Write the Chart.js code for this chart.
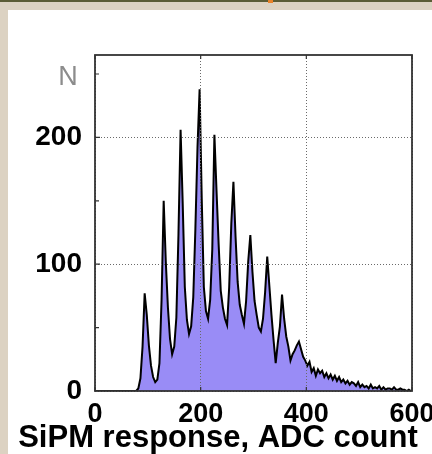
<!DOCTYPE html>
<html><head><meta charset="utf-8">
<script src="https://cdn.jsdelivr.net/npm/chart.js@4/dist/chart.umd.min.js"></script>
<style>html,body{margin:0;padding:0;background:#dcd2c2;overflow:hidden}canvas{display:block}</style>
</head><body>
<canvas id="c" width="432" height="454"></canvas>
<script>
// Histogram: bins of 4 ADC counts starting at 0
const binStart = 0;
const binWidth = 4;
const counts = [
  0,0,0,0,0,0,0,0,0,0, 0,0,0,0,0,0,0,0,0,0,
  2,10,35,77,60,36,20,11,7,9,
  22,72,150,102,66,41,29,35,58,124,
  206,148,82,56,45,51,74,128,192,238,
  152,82,63,57,72,112,202,158,116,79,
  66,57,52,82,132,165,122,86,68,60,
  53,71,102,123,94,71,60,50,47,57,
  78,106,83,60,40,22,38,51,76,57,
  43,35,24,29,32,36,39,33,27,24,
  20,23,15,18,12,17,14,16,11,14,
  10,13,9,12,8,11,7,9,6,8,
  5,7,6,4,7,3,5,3,4,2,
  5,2,3,2,4,1,3,1,2,2,
  1,3,1,1,2,1,1,0,1,0
];
const xTicks = [0, 200, 400, 600];
const yTicks = [0, 100, 200];
const yInnerTicks = [50, 100, 150, 200, 250];
const xMin = 0, xMax = 600, yMin = 0, yMax = 265;
const xLabel = 'SiPM response, ADC count';
const yLabel = 'N';

const FONT = '"Liberation Sans", Arial, Helvetica, sans-serif';
const binCenters = counts.map((_, i) => binStart + binWidth * i + binWidth / 2);
const points = counts.map((c, i) => ({ x: binCenters[i], y: c }));

const bgPlugin = {
  id: 'bg',
  beforeDraw(chart) {
    const ctx = chart.ctx, W = chart.width, H = chart.height;
    ctx.save();
    ctx.fillStyle = '#dcd2c2'; ctx.fillRect(0, 0, W, H);
    ctx.fillStyle = '#5b5c36'; ctx.fillRect(0, 0, W, 2);
    ctx.fillStyle = '#e8822a'; ctx.fillRect(268, 0, 5, 3);
    ctx.fillStyle = '#ffffff'; ctx.fillRect(8, 10, W - 8, H - 10);
    ctx.restore();
  }
};
const framePlugin = {
  id: 'frame',
  afterDraw(chart) {
    const { ctx, chartArea: a, scales: { x, y } } = chart;
    ctx.save();
    ctx.strokeStyle = '#333';
    ctx.lineWidth = 1.8;
    ctx.strokeRect(a.left, a.top, a.right - a.left, a.bottom - a.top);
    ctx.lineWidth = 1.2;
    ctx.beginPath();
    for (const v of yInnerTicks) {
      const py = y.getPixelForValue(v);
      ctx.moveTo(a.left, py); ctx.lineTo(a.left + (v % 100 === 0 ? 5 : 4), py);
    }
    for (const v of xTicks) {
      const px = x.getPixelForValue(v);
      ctx.moveTo(px, a.bottom); ctx.lineTo(px, a.bottom - 4);
      ctx.moveTo(px, a.top); ctx.lineTo(px, a.top + 4);
    }
    ctx.stroke();
    // y-axis title
    ctx.fillStyle = '#8c8c8c';
    ctx.font = '27px ' + FONT;
    ctx.textAlign = 'center';
    ctx.textBaseline = 'alphabetic';
    ctx.fillText(yLabel, a.left - 27, a.top + 30);
    // x-axis title
    ctx.fillStyle = '#000';
    ctx.font = 'bold 31px ' + FONT;
    ctx.fillText(xLabel, 218, chart.height - 7);
    ctx.restore();
  }
};

new Chart(document.getElementById('c'), {
  type: 'line',
  data: {
    datasets: [{
      data: points,
      fill: 'origin',
      backgroundColor: '#998cf6',
      borderColor: '#000',
      borderWidth: 2,
      pointRadius: 0,
      tension: 0
    }]
  },
  options: {
    responsive: false,
    animation: false,
    devicePixelRatio: 1,
    layout: { padding: { top: 55, right: 20, left: 0, bottom: 0 } },
    plugins: {
      legend: { display: false },
      tooltip: { enabled: false },
      title: { display: false }
    },
    scales: {
      x: {
        type: 'linear', min: xMin, max: xMax,
        afterFit(s) { s.height = 63; s.paddingLeft = 0; s.paddingRight = 0; },
        afterBuildTicks(s) { s.ticks = xTicks.map(v => ({ value: v })); },
        ticks: { color: '#000', font: { family: FONT, size: 27, weight: 'bold', lineHeight: 1.2 }, padding: 7, maxRotation: 0, autoSkip: false },
        grid: { color: '#6a6a6a', lineWidth: 1, drawTicks: false, z: 1 },
        border: { display: false, dash: [1, 2] }
      },
      y: {
        type: 'linear', min: yMin, max: yMax,
        afterFit(s) { s.width = 95; s.paddingTop = 0; s.paddingBottom = 0; },
        afterBuildTicks(s) { s.ticks = yTicks.map(v => ({ value: v })); },
        ticks: { color: '#000', font: { family: FONT, size: 28, weight: 'bold' }, padding: 13, autoSkip: false },
        grid: { color: '#6a6a6a', lineWidth: 1, drawTicks: false, z: 1 },
        border: { display: false, dash: [1, 2] }
      }
    }
  },
  plugins: [bgPlugin, framePlugin]
});
</script>
</body></html>
